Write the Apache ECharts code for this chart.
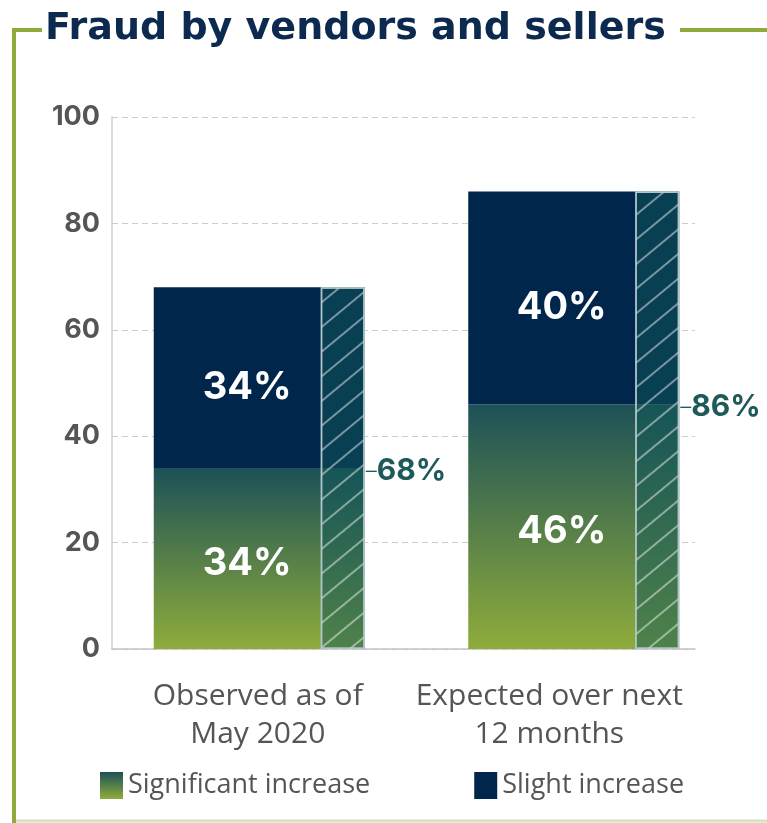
<!DOCTYPE html>
<html>
<head>
<meta charset="utf-8">
<script src="https://cdn.jsdelivr.net/npm/echarts@6/dist/echarts.min.js"></script>
<style>
  html, body { margin: 0; padding: 0; background: #fff; }
  #chart { width: 767px; height: 823px; }
</style>
</head>
<body>
<div id="chart"></div>
<script>
var categories = ['Observed as of\nMay 2020', 'Expected over next\n12 months'];
var significantValues = [34, 46];
var slightValues = [34, 40];
var totalValues = [68, 86];
var yTicks = [0, 20, 40, 60, 80, 100];

var green = '#8fab3c';
var navy = '#00264c';
var sigGradient = {
    type: 'linear', x: 0, y: 0, x2: 0, y2: 1,
    colorStops: [
        {offset: 0, color: '#1c5157'},
        {offset: 1, color: '#8fac3b'}
    ]
};

var chart = echarts.init(document.getElementById('chart'));
chart.setOption({
    animation: false,
    title: {
        text: 'Fraud by vendors and sellers',
        left: 45,
        top: 10,
        padding: 0,
        textStyle: {
            fontFamily: 'DejaVu Sans',
            fontWeight: 'bold',
            fontSize: 38,
            color: '#0c2a4f'
        }
    },
    legend: {
        data: ['Significant increase', 'Slight increase'],
        left: 95,
        top: 767,
        icon: 'rect',
        itemWidth: 23,
        itemHeight: 27,
        itemGap: 104,
        textStyle: {fontFamily: 'Open Sans', fontSize: 27, color: '#555'}
    },
    grid: [
        {left: 112, right: 72, top: 117, bottom: 174},   // axes + gridlines
        {left: 102, right: 36, top: 117, bottom: 174}    // bars
    ],
    xAxis: [
        {
            type: 'category', gridIndex: 0, data: categories,
            axisLine: {lineStyle: {color: '#c4c4c4', width: 1.5}},
            axisTick: {show: false},
            axisLabel: {
                interval: 0,
                fontFamily: 'Open Sans', fontSize: 30, color: '#555',
                lineHeight: 38, margin: 28
            }
        },
        {type: 'category', gridIndex: 1, data: categories, show: false},
        {type: 'category', gridIndex: 1, data: categories, show: false}
    ],
    yAxis: [
        {
            type: 'value', gridIndex: 0, min: 0, max: 100, interval: 20,
            axisLine: {show: true, lineStyle: {color: '#cfcfcf', width: 1.5}},
            axisTick: {show: false},
            axisLabel: {
                fontFamily: 'Inter', fontWeight: 'bold', fontSize: 27,
                color: '#555', margin: 12,
                formatter: function (v) { return yTicks.indexOf(v) >= 0 ? v : ''; }
            },
            splitLine: {lineStyle: {color: '#cccccc', type: [6, 4], width: 1.2}}
        },
        {type: 'value', gridIndex: 1, min: 0, max: 100, show: false}
    ],
    series: [
        {
            name: 'Significant increase', type: 'bar', stack: 'main',
            xAxisIndex: 1, yAxisIndex: 1, barWidth: 211,
            data: significantValues,
            itemStyle: {color: sigGradient},
            label: {
                show: true, position: 'inside', offset: [-12, 5],
                formatter: '{c}%', color: '#fff',
                fontFamily: 'Inter', fontWeight: 'bold', fontSize: 38
            }
        },
        {
            name: 'Slight increase', type: 'bar', stack: 'main',
            xAxisIndex: 1, yAxisIndex: 1, barWidth: 211,
            data: slightValues,
            itemStyle: {color: navy},
            label: {
                show: true, position: 'inside', offset: [-12, 10],
                formatter: '{c}%', color: '#fff',
                fontFamily: 'Inter', fontWeight: 'bold', fontSize: 38
            }
        },
        {
            // invisible spacer that pushes the hatched column to the right, carries total label
            name: 'spacer', type: 'bar', xAxisIndex: 2, yAxisIndex: 1,
            barWidth: 167, barGap: 0, silent: true,
            data: significantValues,
            itemStyle: {color: 'rgba(0,0,0,0)'},
            label: {
                show: true, position: ['100%', 0], offset: [45, 3],
                align: 'left', verticalAlign: 'middle',
                formatter: function (p) { return '{d|–}{v|' + totalValues[p.dataIndex] + '%}'; },
                rich: {
                    d: {fontFamily: 'Inter', fontWeight: 300, fontSize: 22, color: '#1f5a5a'},
                    v: {fontFamily: 'Inter', fontWeight: 'bold', fontSize: 30, color: '#1f5a5a'}
                }
            }
        },
        {
            name: 'Total', type: 'bar', xAxisIndex: 2, yAxisIndex: 1,
            barWidth: 44, barGap: 0, silent: true,
            data: totalValues,
            itemStyle: {
                color: 'rgba(16,88,87,0.5)',
                borderColor: 'rgba(175,198,203,0.9)',
                borderWidth: 1.5,
                decal: {
                    symbol: 'rect', symbolSize: 1,
                    dashArrayX: [1, 0], dashArrayY: [2, 17],
                    rotation: -Math.PI * 0.22,
                    color: 'rgba(255,255,255,0.45)'
                }
            }
        }
    ],
    graphic: [
        {type: 'line', shape: {x1: 14, y1: 29, x2: 14, y2: 823}, style: {stroke: green, lineWidth: 4}},
        {type: 'line', shape: {x1: 12, y1: 30, x2: 42, y2: 30}, style: {stroke: green, lineWidth: 4}},
        {type: 'line', shape: {x1: 680, y1: 30, x2: 767, y2: 30}, style: {stroke: green, lineWidth: 4}},
        {type: 'line', shape: {x1: 16, y1: 821, x2: 767, y2: 821}, style: {stroke: '#d8e2bd', lineWidth: 3}}
    ]
});
</script>
</body>
</html>
